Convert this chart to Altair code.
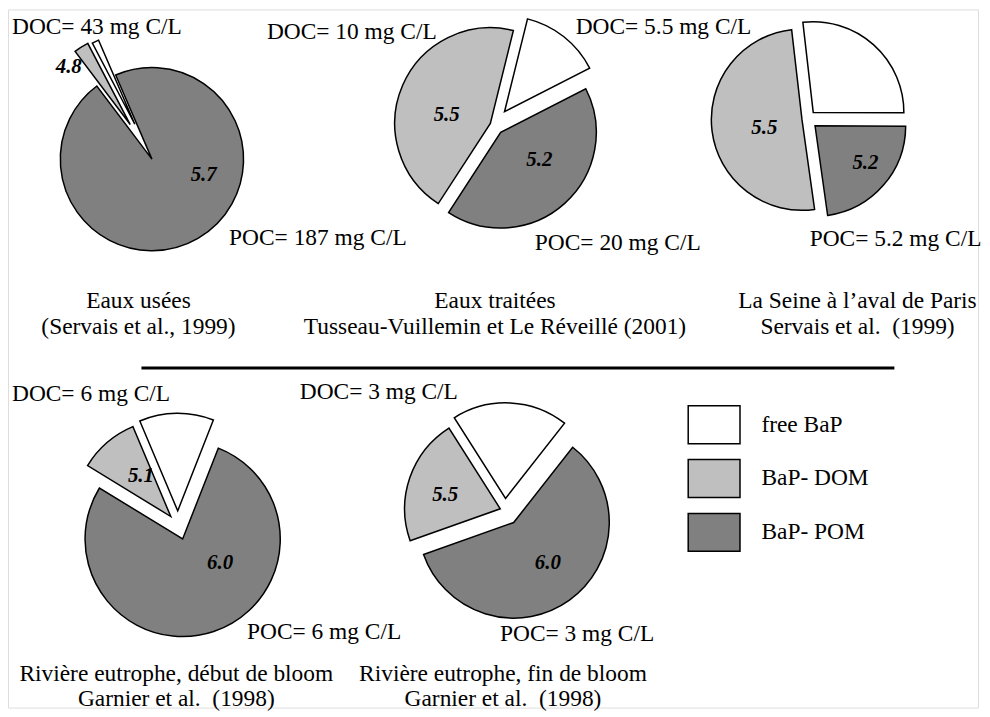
import altair as alt
import pandas as pd

# ---------------- data ----------------
PIES = ["Eaux usées", "Eaux traitées", "La Seine", "Début de bloom", "Fin de bloom"]
PARTS = ["BaP- DOM", "free BaP", "BaP- POM"]          # clockwise order inside each pie
SHARE_DOM = [2.6, 44.7, 50.4, 9.9, 21.4]              # % of BaP bound to DOM
SHARE_FREE = [1.2, 13.6, 26.9, 12.3, 19.6]            # % of free BaP
SHARE_POM = [96.2, 41.7, 22.7, 77.8, 59.0]            # % of BaP bound to POM
LOGK_DOC = ["4.8", "5.5", "5.5", "5.1", "5.5"]
LOGK_POC = ["5.7", "5.2", "5.2", "6.0", "6.0"]
DOC_LABELS = ["DOC= 43 mg C/L", "DOC= 10 mg C/L", "DOC= 5.5 mg C/L", "DOC= 6 mg C/L", "DOC= 3 mg C/L"]
POC_LABELS = ["POC= 187 mg C/L", "POC= 20 mg C/L", "POC= 5.2 mg C/L", "POC= 6 mg C/L", "POC= 3 mg C/L"]
TITLE_1 = ["Eaux usées", "Eaux traitées", "La Seine à l\u2019aval de Paris",
           "Rivière eutrophe, début de bloom", "Rivière eutrophe, fin de bloom"]
TITLE_2 = ["(Servais et al., 1999)", "Tusseau-Vuillemin et Le Réveillé (2001)",
           "Servais et al.\u00a0 (1999)", "Garnier et al.\u00a0 (1998)", "Garnier et al.\u00a0 (1998)"]
LEGEND = ["free BaP", "BaP- DOM", "BaP- POM"]
COLORS = ["#ffffff", "#bfbfbf", "#808080"]

# ---------------- layout (page pixels) ----------------
CENTER_X = [150, 496, 810.6, 178.6, 507]
CENTER_Y = [154, 124, 118, 525.5, 511]
RADIUS = [92, 96, 91, 98, 96]
START_DEG = [-37, -147, 172, -58.5, -109.5]
EXPLODE = [[36, 34, 5], [4, 17, 10], [5.4, 8.9, 10.3], [11, 14, 15], [5, 12, 15]]
DOC_POS = [(12, 33), (268, 38), (578, 33), (12, 401), (301, 399)]
POC_POS = [(230, 245), (537, 250), (813, 246), (248, 640), (502, 642)]
NUM_DOC_POS = [(69, 72), (448.5, 120), (767.5, 133), (141.5, 482), (447, 502)]
NUM_POC_POS = [(204.5, 180), (541.5, 165), (869, 168), (221, 570), (550, 570)]
TITLE_X = [139, 497, 861, 177, 505]
TITLE_Y1 = [308, 308, 308, 682, 682]
TITLE_Y2 = [334, 334, 334, 707, 707]
SEP = dict(x=142, x2=898, y=368)

W, H = 974, 701
XS = alt.Scale(domain=[8, 8 + W], nice=False, zero=False)
YS = alt.Scale(domain=[8 + H, 8], nice=False, zero=False)
FONT = "Liberation Serif"
FS = 23.5

# ---------------- tables ----------------
rows = []
for i, pie in enumerate(PIES):
    shares = [SHARE_DOM[i], SHARE_FREE[i], SHARE_POM[i]]
    for k, part in enumerate(PARTS):
        rows.append(dict(pie=pie, part=part, order=k, share=shares[k],
                         explode=EXPLODE[i][k], cx=CENTER_X[i], cy=CENTER_Y[i],
                         r=RADIUS[i], start=START_DEG[i]))
pie_df = pd.DataFrame(rows)

left_txt = pd.DataFrame(
    [dict(x=DOC_POS[i][0], y=DOC_POS[i][1], t=DOC_LABELS[i]) for i in range(5)]
    + [dict(x=POC_POS[i][0], y=POC_POS[i][1], t=POC_LABELS[i]) for i in range(5)])
title_txt = pd.DataFrame(
    [dict(x=TITLE_X[i], y=TITLE_Y1[i], t=TITLE_1[i]) for i in range(5)]
    + [dict(x=TITLE_X[i], y=TITLE_Y2[i], t=TITLE_2[i]) for i in range(5)])
num_txt = pd.DataFrame(
    [dict(x=NUM_DOC_POS[i][0], y=NUM_DOC_POS[i][1], t=LOGK_DOC[i]) for i in range(5)]
    + [dict(x=NUM_POC_POS[i][0], y=NUM_POC_POS[i][1], t=LOGK_POC[i]) for i in range(5)])
sep_df = pd.DataFrame([SEP])

# ---------------- chart ----------------
pies = alt.Chart(pie_df).transform_window(
    cum="sum(share)", groupby=["pie"], sort=[alt.SortField("order")], frame=[None, 0]
).transform_calculate(
    t0="datum.start*PI/180 + (datum.cum - datum.share)/100*2*PI",
    t1="datum.start*PI/180 + datum.cum/100*2*PI",
).transform_calculate(
    px="datum.cx + datum.explode*sin((datum.t0 + datum.t1)/2)",
    py="datum.cy - datum.explode*cos((datum.t0 + datum.t1)/2)",
).mark_arc(stroke="black", strokeWidth=1.5).encode(
    x=alt.X("px:Q", scale=XS, axis=None),
    y=alt.Y("py:Q", scale=YS, axis=None),
    theta=alt.Theta("t0:Q", scale=None, stack=False),
    theta2=alt.Theta2("t1:Q"),
    radius=alt.Radius("r:Q", scale=None),
    color=alt.Color("part:N",
                    scale=alt.Scale(domain=LEGEND, range=COLORS),
                    legend=alt.Legend(title=None, orient="none", legendX=682, legendY=390,
                                      symbolType="M-1,-0.73H1V0.73H-1Z", symbolSize=2704,
                                      symbolStrokeColor="black", symbolStrokeWidth=1.5,
                                      labelFont=FONT, labelFontSize=FS, labelColor="black",
                                      rowPadding=5, labelOffset=20.5, symbolOffset=0,
                                      padding=0, labelLimit=0)),
)

left_layer = alt.Chart(left_txt).mark_text(
    align="left", baseline="alphabetic", font=FONT, fontSize=FS, color="black"
).encode(x=alt.X("x:Q", scale=XS, axis=None), y=alt.Y("y:Q", scale=YS, axis=None), text="t:N")

title_layer = alt.Chart(title_txt).mark_text(
    align="center", baseline="alphabetic", font=FONT, fontSize=FS, color="black"
).encode(x=alt.X("x:Q", scale=XS, axis=None), y=alt.Y("y:Q", scale=YS, axis=None), text="t:N")

num_layer = alt.Chart(num_txt).mark_text(
    align="center", baseline="alphabetic", font=FONT, fontSize=21, fontWeight="bold",
    fontStyle="italic", color="black"
).encode(x=alt.X("x:Q", scale=XS, axis=None), y=alt.Y("y:Q", scale=YS, axis=None), text="t:N")

sep_layer = alt.Chart(sep_df).mark_rule(color="black", strokeWidth=3).encode(
    x=alt.X("x:Q", scale=XS, axis=None), x2="x2:Q", y=alt.Y("y:Q", scale=YS, axis=None))

chart = alt.layer(pies, sep_layer, left_layer, title_layer, num_layer).properties(
    width=W, height=H, padding=0
).configure_view(strokeWidth=0, stroke="transparent").configure(background="white")

chart.save("out.html", embed_options={"renderer": "svg", "actions": False})
